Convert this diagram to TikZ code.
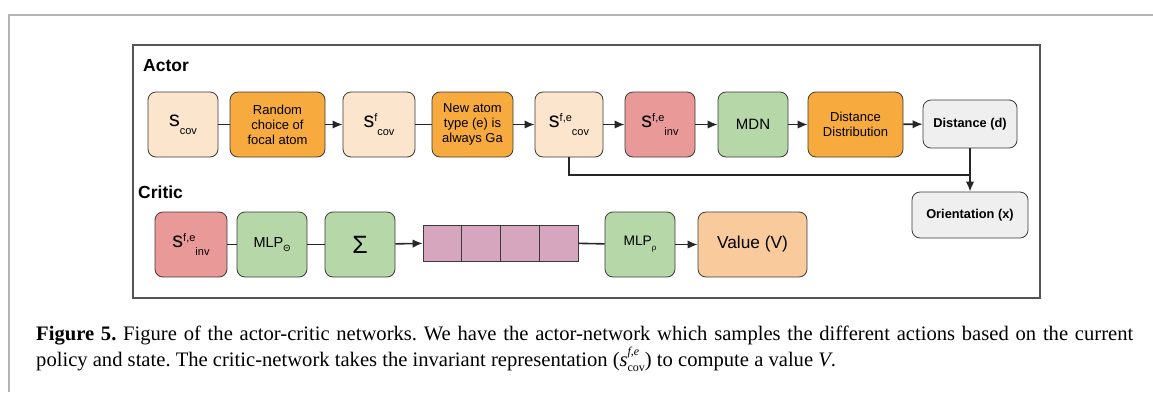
\documentclass[tikz,border=0pt]{standalone}
\usepackage{fontspec}
\setmainfont{Liberation Serif}
\newfontfamily\arialf{Liberation Sans}
\usetikzlibrary{arrows.meta}

\definecolor{peach}{HTML}{FCE5CD}
\definecolor{amber}{HTML}{F7AA3D}
\definecolor{rose}{HTML}{EA9999}
\definecolor{sage}{HTML}{B6D7A8}
\definecolor{apricot}{HTML}{F9CB9C}
\definecolor{mist}{HTML}{EFEFEF}
\definecolor{mauve}{HTML}{D5A6BD}
\definecolor{edge}{HTML}{3A3A3A}
\definecolor{framegray}{HTML}{B4B4B4}
\definecolor{panelgray}{HTML}{555555}

% state symbol s with optional superscript and subscript set side by side
\newcommand{\stxt}[2]{{\fontsize{21.5}{21.5}\selectfont s}{\fontsize{11}{11}\selectfont\raisebox{6pt}{#1}\raisebox{-8pt}{#2}}}
\newcommand{\sz}[1]{\fontsize{#1}{#1}\selectfont}
\newcommand{\szl}[2]{\fontsize{#1}{#2}\selectfont}

\begin{document}
\frenchspacing
\begin{tikzpicture}[x=1pt,y=-1pt,
  box/.style={draw=edge,line width=0.8pt,rounded corners=8pt,align=center,
    inner sep=0pt,minimum height=65pt,font=\arialf\sz{13}},
  cell/.style={draw=edge,line width=0.8pt,fill=mauve,minimum width=38.75pt,
    minimum height=36pt,inner sep=0pt},
  link/.style={draw=black!85,line width=1.6pt},
  arr/.style={link,-{Latex[length=10pt,width=8.5pt]}},
  lab/.style={font=\arialf\bfseries\sz{17.5},anchor=base west,inner sep=0pt}]

\useasboundingbox (0,0) rectangle (1153,392);

% outer page frame (top and left rules)
\draw[framegray,line width=1.3pt] (1153,15) -- (9,15) -- (9,392);

% panel
\draw[panelgray,line width=1.8pt] (133,45) rectangle (1040,298);

\node[lab] (actor) at (143,71.5) {Actor};
\node[lab] (critic) at (138,198.5) {Critic};

% actor row
\node[box,fill=peach,minimum width=70pt] (scov) at (183,124.5) {\stxt{}{cov}};
\node[box,fill=amber,minimum width=95pt,font=\arialf\szl{13}{15}] (rand) at (277.5,124.5) {Random\\choice of\\focal atom};
\node[box,fill=peach,minimum width=72pt] (sf) at (379,124.5) {\stxt{f}{cov}};
\node[box,fill=amber,minimum width=81pt,font=\arialf\szl{13}{15}] (newat) at (472.5,124.5) {New atom\\type (e) is\\always Ga};
\node[box,fill=peach,minimum width=68pt] (sfe) at (569,124.5) {\stxt{f,e}{cov}};
\node[box,fill=rose,minimum width=70pt] (sinv) at (660,124.5) {\stxt{f,e}{inv}};
\node[box,fill=sage,minimum width=70pt,font=\arialf\sz{15}] (mdn) at (753,124.5) {MDN};
\node[box,fill=amber,minimum width=95pt,font=\arialf\szl{13}{15}] (ddist) at (855.5,124.5) {Distance\\Distribution};
\node[box,fill=mist,minimum width=94pt,minimum height=48pt,font=\arialf\bfseries\sz{12.8}] (dist) at (970,124) {Distance (d)};
\node[box,fill=mist,minimum width=116pt,minimum height=46pt,font=\arialf\bfseries\sz{12.8}] (orient) at (970,215) {Orientation (x)};

\draw[link] (scov) -- (rand);
\draw[arr] (rand) -- (sf);
\draw[link] (sf) -- (newat);
\draw[arr] (newat) -- (sfe);
\draw[arr] (sfe) -- (sinv);
\draw[arr] (sinv) -- (mdn);
\draw[arr] (mdn) -- (ddist);
\draw[arr] (ddist) -- (dist);
\draw[arr] (dist) -- (orient);
\coordinate (join) at (970,175);
\draw[link] (sfe.south) |- (join);

% critic row
\node[box,fill=rose,minimum width=72pt] (csinv) at (191,244.5) {\stxt{f,e}{inv}};
\node[box,fill=sage,minimum width=70pt,font=\arialf\sz{14.5}] (mlpt) at (272,244.5) {MLP{\sz{9}\raisebox{-4pt}{Θ}}};
\node[box,fill=sage,minimum width=70pt,font=\arialf\sz{25}] (sigma) at (360,244.5) {Σ};
\node[cell] (c1) at (442.375,243) {};
\node[cell] (c2) at (481.125,243) {};
\node[cell] (c3) at (519.875,243) {};
\node[cell] (c4) at (558.625,243) {};
\node[box,fill=sage,minimum width=70pt,font=\arialf\sz{13.8}] (mlpr) at (640,244.5) {MLP{\sz{8}\raisebox{-5pt}{ρ}}};
\node[box,fill=apricot,minimum width=109pt,font=\arialf\sz{17.3}] (value) at (752.5,244.5) {Value (V)};

\draw[link] (csinv) -- (mlpt);
\draw[link] (mlpt) -- (sigma);
\draw[arr] (sigma) -- (c1);
\draw[link] (c4) -- (mlpr);
\draw[arr] (mlpr) -- (value);

% caption
\node[anchor=base west,inner sep=0pt,font=\sz{20.6}] (cap1) at (36,340)
  {\makebox[1097pt][s]{\textbf{Figure 5.} Figure of the actor-critic networks. We have the actor-network which samples the different actions based on the current}};
\node[anchor=base west,inner sep=0pt,font=\sz{20.6}] (cap2) at (36,366)
  {policy and state. The critic-network takes the invariant representation (\textit{s}\makebox[0pt][l]{\raisebox{0.5em}{\sz{12}\textit{f},\textit{e}}}\raisebox{-0.25em}{\sz{12}cov}) to compute a value \textit{V}.};
\end{tikzpicture}
\end{document}
